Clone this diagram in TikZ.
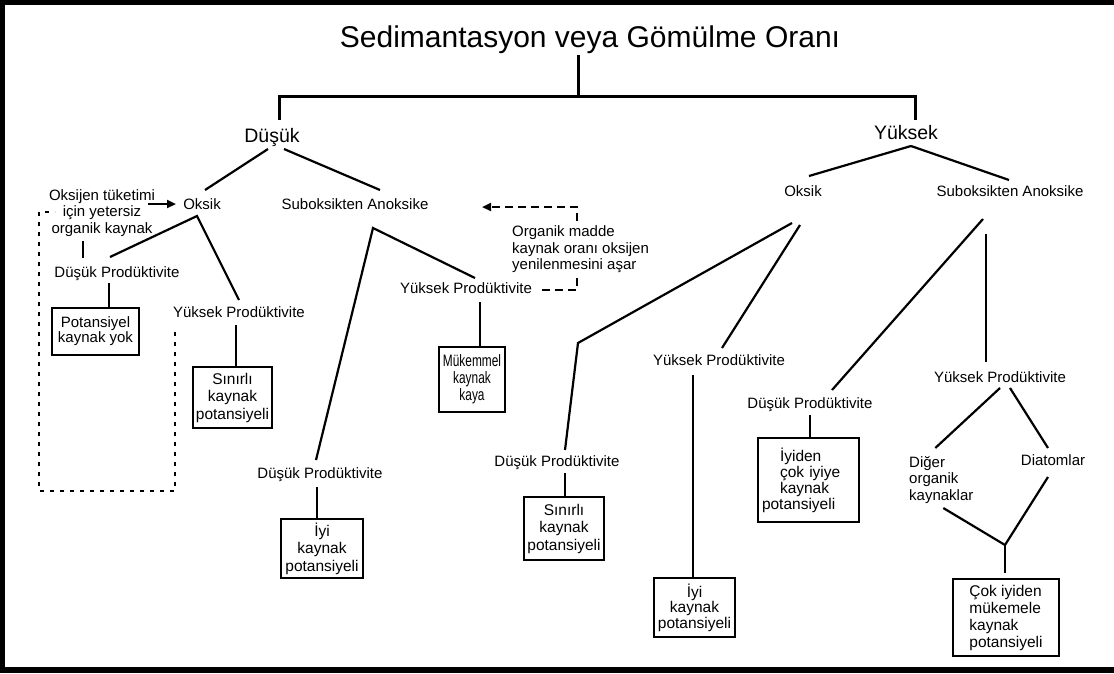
\documentclass[tikz,border=0pt]{standalone}
\usepackage{fontspec}
\setmainfont{Liberation Sans}
\newfontfamily\narrowfont[FakeStretch=0.72]{Liberation Sans}
\usetikzlibrary{calc,arrows.meta}
\begin{document}
\begin{tikzpicture}[x=1pt,y=-1pt,
  lab/.style={font=\fontsize{15}{16.5}\selectfont, inner sep=1pt, anchor=base},
  biglab/.style={font=\fontsize{19.5}{23}\selectfont, inner sep=1pt, anchor=base},
  txt/.style={font=\fontsize{15}{16.5}\selectfont, inner sep=2pt},
  box/.style={draw, line width=2.3pt, inner sep=0pt, align=center, font=\fontsize{15.5}{17.5}\selectfont},
  ln/.style={line width=2.2pt},
  tl/.style={line width=3pt},
  dotline/.style={line width=2.2pt, dash pattern=on 4pt off 6pt},
  dashline/.style={line width=2.2pt, dash pattern=on 8pt off 5pt},
  tip/.style={-{Triangle[length=9pt,width=8pt]}}
]
\useasboundingbox (0,0) rectangle (1114,673);
\fill[black] (0,0) rectangle (1114,673);
\fill[white] (5,5) rectangle (1114,667);

% title and first level
\node[anchor=base, font=\fontsize{30}{36}\selectfont, inner sep=0pt] (T) at (590,47) {Sedimantasyon veya Gömülme Oranı};
\node[biglab] (dusuk) at (272,142) {Düşük};
\node[biglab] (yuksek) at (906,139) {Yüksek};

% second level
\node[lab] (oksikL) at (202,209) {Oksik};
\node[lab] (subL) at (355,209) {Suboksikten Anoksike};
\node[lab] (oksikR) at (803,196) {Oksik};
\node[lab] (subR) at (1010,196) {Suboksikten Anoksike};

% labels
\node[txt, align=center] (oksijen) at (102,213) {Oksijen tüketimi\\için yetersiz\\organik kaynak};
\node[lab] (dpL) at (117,277) {Düşük Prodüktivite};
\node[lab] (ypL) at (239,317) {Yüksek Prodüktivite};
\node[lab] (ypM) at (466,293) {Yüksek Prodüktivite};
\node[lab] (dpM) at (320,478) {Düşük Prodüktivite};
\node[lab] (dpR1) at (557,466) {Düşük Prodüktivite};
\node[lab] (ypR1) at (719,365) {Yüksek Prodüktivite};
\node[lab] (dpR2) at (810,408) {Düşük Prodüktivite};
\node[lab] (ypR2) at (1000,382) {Yüksek Prodüktivite};
\node[lab] (diatom) at (1053,465) {Diatomlar};
\node[txt, align=left, anchor=west] (diger) at (907,480) {Diğer\\organik\\kaynaklar};

% boxes
\node[box, minimum width=87pt, minimum height=47pt, font=\fontsize{15}{15}\selectfont] (pot) at (95.5,331.5) {Potansiyel\\kaynak yok};
\node[box, minimum width=79pt, minimum height=61pt] (sinL) at (232.5,397.5) {Sınırlı\\kaynak\\potansiyeli};
\node[box, minimum width=66pt, minimum height=65pt, font=\narrowfont\fontsize{16.5}{17}\selectfont] (muk) at (472,379.5) {Mükemmel\\kaynak\\kaya};
\node[box, minimum width=82pt, minimum height=59pt] (iyiL) at (322,548.5) {İyi\\kaynak\\potansiyeli};
\node[box, minimum width=80pt, minimum height=63pt] (sinR) at (564,528.5) {Sınırlı\\kaynak\\potansiyeli};
\node[box, minimum width=81pt, minimum height=59pt, font=\fontsize{15.5}{15.5}\selectfont] (iyiR) at (694.5,607.5) {İyi\\kaynak\\potansiyeli};
\node[box, align=left, text width=93pt, inner xsep=4pt, minimum height=84pt, font=\fontsize{15.5}{16}\selectfont] (iyiden) at (808.5,480) {\leftskip=18pt İyiden\\çok iyiye\\kaynak\\potansiyeli};
\node[box, align=left, minimum width=106pt, minimum height=77pt, font=\fontsize{15.5}{17}\selectfont] (cok) at (1006,617.5) {Çok iyiden\\mükemele\\kaynak\\potansiyeli};

% title connectors
\coordinate (bar) at (578,96);
\draw[tl] ($(T.base)+(-12,8)$) -- (bar);
\draw[tl] ($(dusuk.base)+(7,-22)$) |- (bar) -| ($(yuksek.base)+(9,-19)$);

% Dusuk branch
\draw[ln] ($(dusuk.base)+(-4,7)$) -- ($(oksikL.base)+(3,-19)$);
\draw[ln] ($(dusuk.base)+(12,7)$) -- ($(subL.base)+(25,-19)$);
\draw[ln, tip] ($(oksijen.center)+(46,-9)$) -- ($(oksikL.base)+(-26,-5)$);
\draw[ln] ($(dpL.base)+(-7,-20)$) -- ($(oksikL.base)+(-5,7)$) -- ($(ypL.base)+(0,-17)$);
\draw[ln] ($(oksijen.center)+(-19,28)$) -- ($(dpL.base)+(-34,-19)$);
\draw[ln] ($(dpL.base)+(-8,6)$) -- ($(pot.north)+(13.5,0)$);
\draw[ln] ($(ypL.base)+(-3,8)$) -- ($(sinL.north)+(3.5,0)$);
\draw[dotline] ($(ypL.base)+(-64,15)$) -- ++(0,159) -- ++(-136,0) |- ($(oksijen.center)+(-47,-1)$);
\draw[ln] ($(ypM.base)+(9,-15)$) -- ($(subL.base)+(18,19)$) -- ($(dpM.base)+(-4,-18)$);
\draw[ln] ($(ypM.base)+(14,9)$) -- ($(muk.north)+(8,0)$);
\draw[ln] ($(dpM.base)+(-3,9)$) -- ($(iyiL.north)+(-5,0)$);
\draw[dashline, tip] ($(ypM.base)+(76,-3)$) -- ++(35,0) |- ($(subL.base)+(127,-2)$);
\node[txt, align=left, anchor=west, fill=white] (organik) at (510,249.5) {Organik madde\\kaynak oranı oksijen\\yenilenmesini aşar};

% Yuksek branch
\draw[ln] ($(yuksek.base)+(5,7)$) -- ($(oksikR.base)+(6,-20)$);
\draw[ln] ($(yuksek.base)+(5,7)$) -- ($(subR.base)+(-1,-16)$);
\draw[ln] ($(oksikR.base)+(-11,27)$) -- (578,343) -- ($(dpR1.base)+(8,-16)$);
\draw[ln] ($(oksikR.base)+(-3,29)$) -- ($(ypR1.base)+(3,-17)$);
\draw[ln] ($(dpR1.base)+(8,7)$) -- ($(sinR.north)+(1,0)$);
\draw[ln] ($(ypR1.base)+(-26,10)$) -- ($(iyiR.north)+(-1.5,0)$);
\draw[ln] ($(subR.base)+(-27,23)$) -- ($(dpR2.base)+(22,-18)$);
\draw[ln] ($(subR.base)+(-24,38)$) -- ($(ypR2.base)+(-14,-20)$);
\draw[ln] ($(dpR2.base)+(0,7)$) -- ($(iyiden.north)+(1.5,0)$);
\draw[ln] ($(ypR2.base)+(0,6)$) -- ($(diger.center)+(-6,-32)$);
\draw[ln] ($(ypR2.base)+(10,6)$) -- ($(diatom.base)+(-5,-17)$);
\coordinate (J) at (1005,545);
\draw[ln] ($(diger.center)+(2,28)$) -- (J);
\draw[ln] ($(diatom.base)+(-5,12)$) -- (J);
\draw[ln] (J) -- ($(cok.north)+(-1,-5)$);
\end{tikzpicture}
\end{document}
